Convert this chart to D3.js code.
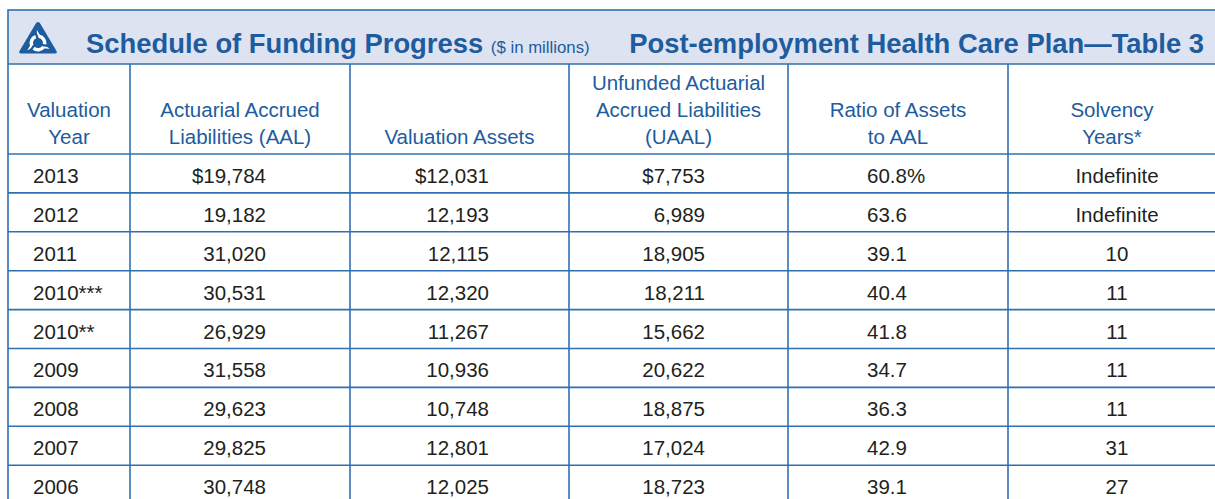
<!DOCTYPE html>
<html>
<head>
<meta charset="utf-8">
<script src="https://cdn.jsdelivr.net/npm/d3@7"></script>
<style>
  body { margin: 0; background: #fff; }
  svg { display: block; font-family: "Liberation Sans", Arial, sans-serif; }
</style>
</head>
<body>
<svg width="1215" height="499"></svg>
<script>
// table data, newest first
const years = ["2013", "2012", "2011", "2010***", "2010**", "2009", "2008", "2007", "2006"];
const aal = [19784, 19182, 31020, 30531, 26929, 31558, 29623, 29825, 30748];
const assets = [12031, 12193, 12115, 12320, 11267, 10936, 10748, 12801, 12025];
const uaal = [7753, 6989, 18905, 18211, 15662, 20622, 18875, 17024, 18723];
const ratio = [60.8, 63.6, 39.1, 40.4, 41.8, 34.7, 36.3, 42.9, 39.1];
const solvency = ["Indefinite", "Indefinite", "10", "11", "11", "11", "11", "31", "27"];
const headers = [
  ["Valuation", "Year"],
  ["Actuarial Accrued", "Liabilities (AAL)"],
  ["Valuation Assets"],
  ["Unfunded Actuarial", "Accrued Liabilities", "(UAAL)"],
  ["Ratio of Assets", "to AAL"],
  ["Solvency", "Years*"]
];

const blue = "#1d5c9e";
const lineColor = "#3070b1";
const ink = "#231f20";
const fontSize = 20.5;

const svg = d3.select("svg");
const tLeft = 8, tRight = 1216, tTop = 10, bandBottom = 64, headBottom = 154;
const colEdges = [tLeft, 130, 350, 569, 788, 1008, tRight];

const y = d3.scaleBand().domain(years).range([headBottom, headBottom + 9 * 38.9]);

// header band
svg.append("rect")
  .attr("x", tLeft).attr("y", tTop)
  .attr("width", tRight - tLeft).attr("height", bandBottom - tTop)
  .attr("fill", "#dde3f1");

// logo
const logo = svg.append("g").attr("transform", "translate(38,40)");
logo.append("path")
  .attr("d", "M0,-18 Q1.5,-18 2.5,-16 L18.5,11 Q19.5,13.5 17,13.5 L-17,13.5 Q-19.5,13.5 -18.5,11 L-2.5,-16 Q-1.5,-18 0,-18 Z")
  .attr("fill", blue);
[0, 120, 240].forEach(a => {
  logo.append("path")
    .attr("transform", `translate(0,3) rotate(${a})`)
    .attr("d", d3.arc()({ innerRadius: 5, outerRadius: 8.5, startAngle: 0.1, endAngle: 1.75 }))
    .attr("fill", "#fff");
  logo.append("path")
    .attr("transform", `translate(0,3) rotate(${a})`)
    .attr("d", "M1.5,-5 Q-2,-9 -1,-13 L1.5,-8.5 Z")
    .attr("fill", "#fff");
});

// title
const title = svg.append("text")
  .attr("x", 86).attr("y", 53)
  .attr("fill", blue)
  .attr("font-weight", "bold")
  .attr("font-size", 27.4);
title.append("tspan").text("Schedule of Funding Progress ");
title.append("tspan").attr("font-weight", "normal").attr("font-size", 16.8).text("($ in millions)");
svg.append("text")
  .attr("x", 1204).attr("y", 53)
  .attr("text-anchor", "end")
  .attr("fill", blue)
  .attr("font-weight", "bold")
  .attr("font-size", 27.4)
  .text("Post-employment Health Care Plan\u2014Table 3");

// column headers, bottom aligned
const headBase = [90, 117, 143.5];
headers.forEach((lines, i) => {
  const cx = (colEdges[i] + colEdges[i + 1]) / 2;
  lines.forEach((t, j) => {
    svg.append("text")
      .attr("x", cx)
      .attr("y", headBase[3 - lines.length + j])
      .attr("text-anchor", "middle")
      .attr("fill", blue)
      .attr("font-size", fontSize)
      .text(t);
  });
});

// cells
const num = d3.format(",");
const cols = [
  { vals: years, x: 33, anchor: "start", fmt: d => d },
  { vals: aal, x: 266, anchor: "end", fmt: (d, i) => (i === 0 ? "$" : "") + num(d) },
  { vals: assets, x: 489, anchor: "end", fmt: (d, i) => (i === 0 ? "$" : "") + num(d) },
  { vals: uaal, x: 705, anchor: "end", fmt: (d, i) => (i === 0 ? "$" : "") + num(d) },
  { vals: ratio, x: 867, anchor: "start", fmt: (d, i) => d3.format(".1f")(d) + (i === 0 ? "%" : "") },
  { vals: solvency, x: 1117, anchor: "middle", fmt: d => d }
];
cols.forEach(c => {
  svg.append("g").selectAll("text")
    .data(c.vals)
    .join("text")
    .attr("x", c.x)
    .attr("y", (d, i) => y(years[i]) + y.bandwidth() / 2 + 9.5)
    .attr("text-anchor", c.anchor)
    .attr("fill", ink)
    .attr("font-size", fontSize)
    .text(c.fmt);
});

// grid lines
const grid = svg.append("g").attr("stroke", lineColor).attr("stroke-width", 1.6).attr("fill", "none");
grid.append("rect").attr("x", tLeft).attr("y", tTop).attr("width", tRight - tLeft).attr("height", 600);
grid.append("line").attr("x1", tLeft).attr("x2", tRight).attr("y1", bandBottom).attr("y2", bandBottom);
grid.selectAll(".h")
  .data(years)
  .join("line")
  .attr("x1", tLeft).attr("x2", tRight)
  .attr("y1", d => y(d)).attr("y2", d => y(d));
grid.selectAll(".v")
  .data(colEdges.slice(1, -1))
  .join("line")
  .attr("x1", d => d).attr("x2", d => d)
  .attr("y1", bandBottom).attr("y2", 600);
</script>
</body>
</html>
